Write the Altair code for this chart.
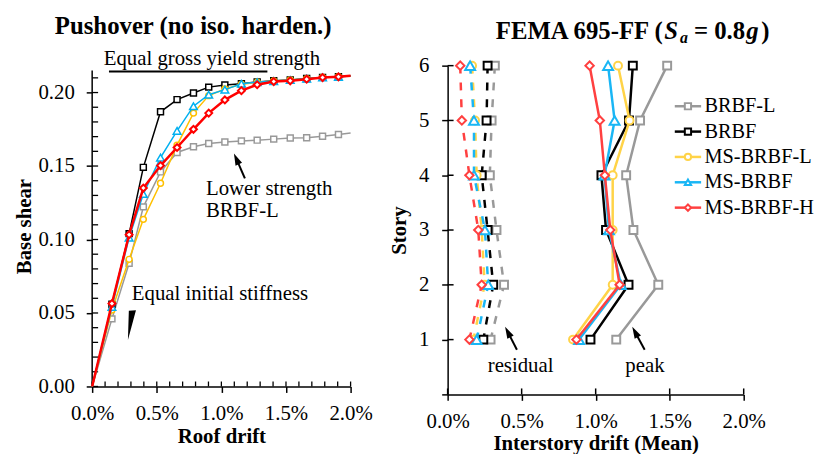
import altair as alt
import pandas as pd

FONT = "Liberation Serif"

SERIES = ["BRBF-L", "BRBF", "MS-BRBF-L", "MS-BRBF", "MS-BRBF-H"]
SHAPES = ["square", "square", "circle", "triangle-up", "diamond"]
COLORS_PUSH = ["#999999", "#000000", "#FFC000", "#00B0F0", "#FF0000"]
COLORS_DRIFT = ["#999999", "#000000", "#FFD347", "#19B6F5", "#FF4040"]

# ---------------- Pushover: roof drift (%) at markers, base shear ----------------
PUSH_DRIFT = [0.153, 0.286, 0.396, 0.529, 0.657, 0.784, 0.902, 1.027, 1.155,
              1.277, 1.405, 1.533, 1.660, 1.783, 1.906]
PUSH_END = 2.0
SHEAR_BRBF_L = [0.046, 0.0838, 0.1222, 0.146, 0.1592, 0.1631, 0.1653, 0.1664,
                0.1671, 0.1676, 0.1683, 0.1691, 0.1693, 0.1703, 0.1714]
SHEAR_BRBF = [0.056, 0.104, 0.1491, 0.1869, 0.1952, 0.1997, 0.2037, 0.2051,
              0.2060, 0.2072, 0.2080, 0.2086, 0.2095, 0.2103, 0.2108]
SHEAR_MS_BRBF_L = [0.052, 0.0865, 0.1137, 0.1383, 0.1642, 0.1860, 0.1979, 0.2024,
                   0.2057, 0.2070, 0.2078, 0.2085, 0.2094, 0.2102, 0.2107]
SHEAR_MS_BRBF = [0.0541, 0.1013, 0.131, 0.1557, 0.1739, 0.1907, 0.1985, 0.2020,
                 0.2060, 0.2070, 0.2078, 0.2085, 0.2094, 0.2102, 0.2107]
SHEAR_MS_BRBF_H = [0.0564, 0.1033, 0.135, 0.1503, 0.1626, 0.1750, 0.1860, 0.1950,
                   0.2013, 0.2053, 0.2075, 0.2080, 0.2091, 0.2102, 0.2107]
SHEAR_AT_END = [0.1725, 0.2114, 0.2113, 0.2113, 0.2114]

# ---------------- FEMA 695-FF: interstory drift (%) per story ----------------
STORIES = [1, 2, 3, 4, 5, 6]
PEAK_BRBF_L = [1.139, 1.423, 1.255, 1.206, 1.300, 1.483]
PEAK_BRBF = [0.965, 1.222, 1.070, 1.039, 1.225, 1.251]
PEAK_MS_BRBF_L = [0.847, 1.115, 1.115, 1.115, 1.229, 1.151]
PEAK_MS_BRBF = [0.888, 1.170, 1.090, 1.060, 1.128, 1.084]
PEAK_MS_BRBF_H = [0.870, 1.162, 1.099, 1.062, 1.028, 0.959]
RES_BRBF_L = [0.290, 0.381, 0.330, 0.285, 0.297, 0.319]
RES_BRBF = [0.241, 0.308, 0.270, 0.230, 0.263, 0.270]
RES_MS_BRBF_L = [0.174, 0.250, 0.230, 0.196, 0.185, 0.165]
RES_MS_BRBF = [0.196, 0.274, 0.252, 0.178, 0.178, 0.152]
RES_MS_BRBF_H = [0.147, 0.230, 0.207, 0.147, 0.096, 0.085]

X_TICKS = [0, 0.005, 0.01, 0.015, 0.02]
Y_TICKS_PUSH = [0, 0.05, 0.10, 0.15, 0.20]
X_MINOR_PUSH = [i / 1000 for i in range(21)]
Y_MINOR_PUSH = [i / 100 for i in range(22)]
STORY_TICKS = [0, 1, 2, 3, 4, 5, 6]

SHEARS = [SHEAR_BRBF_L, SHEAR_BRBF, SHEAR_MS_BRBF_L, SHEAR_MS_BRBF, SHEAR_MS_BRBF_H]
PEAKS = [PEAK_BRBF_L, PEAK_BRBF, PEAK_MS_BRBF_L, PEAK_MS_BRBF, PEAK_MS_BRBF_H]
RESIDS = [RES_BRBF_L, RES_BRBF, RES_MS_BRBF_L, RES_MS_BRBF, RES_MS_BRBF_H]

ONE = pd.DataFrame({"k": [0]})
ARROW = "M0,-1L-0.6,1L0.6,1Z"
AXIS_COMMON = dict(labelFlush=False, labelOverlap=False)

# ================= Left panel =================
WL, HL = 261, 324
xsL = alt.Scale(domain=[0, 0.02], nice=False, zero=False)
ysL = alt.Scale(domain=[0, 0.2183], nice=False, zero=False)
AX_XL = alt.Axis(values=X_TICKS, format=".1%", title="Roof drift",
                 tickSize=6, labelPadding=10, titlePadding=3, **AXIS_COMMON)
AX_YL = alt.Axis(values=Y_TICKS_PUSH, format=".2f", title="Base shear",
                 tickSize=6, labelPadding=12, titlePadding=4, domain=False, **AXIS_COMMON)
X_L = alt.X("drift:Q", scale=xsL, axis=AX_XL)
Y_L = alt.Y("shear:Q", scale=ysL, axis=AX_YL)


def xdL(v):
    return alt.XDatum(v, scale=xsL, axis=AX_XL)


def ydL(v):
    return alt.YDatum(v, scale=ysL, axis=AX_YL)


left_layers = []
# inward ticks + y axis line
left_layers.append(
    alt.Chart(pd.DataFrame({"v": X_MINOR_PUSH})).mark_rule(color="black", strokeWidth=1.3)
    .encode(x=alt.X("v:Q", scale=xsL, axis=AX_XL), y=alt.value(HL), y2=alt.value(HL - 5)))
left_layers.append(
    alt.Chart(pd.DataFrame({"v": Y_MINOR_PUSH})).mark_rule(color="black", strokeWidth=1.3)
    .encode(y=alt.Y("v:Q", scale=ysL, axis=AX_YL), x=alt.value(0), x2=alt.value(6)))
left_layers.append(
    alt.Chart(ONE).mark_rule(color="black", strokeWidth=1.5)
    .encode(x=alt.value(0), y=ydL(0), y2=alt.Y2Datum(0.215)))

size_push = [36, 36, 36, 60, 49]
width_push = [1.5, 1.5, 1.5, 1.5, 2.5]
for i, s in enumerate(SERIES):
    rows = [dict(drift=0.0, shear=0.0, marker=False)]
    rows += [dict(drift=d / 100, shear=v, marker=True) for d, v in zip(PUSH_DRIFT, SHEARS[i])]
    rows.append(dict(drift=PUSH_END / 100, shear=SHEAR_AT_END[i], marker=False))
    df = pd.DataFrame(rows)
    df["series"] = s
    left_layers.append(alt.Chart(df).mark_line(color=COLORS_PUSH[i], strokeWidth=width_push[i])
                       .encode(x=X_L, y=Y_L))
    left_layers.append(alt.Chart(df[df.marker]).mark_point(
        shape=SHAPES[i], size=size_push[i], filled=True, fill="white",
        stroke=COLORS_PUSH[i], strokeWidth=2 if i == 4 else 1.5, opacity=1)
        .encode(x=X_L, y=Y_L))

# annotations
left_layers.append(alt.Chart(ONE).mark_text(
    text="Pushover (no iso. harden.)", font=FONT, fontSize=25, fontWeight="bold",
    color="black", align="center", baseline="alphabetic")
    .encode(x=alt.value(102), y=alt.value(-31.8)))
left_layers.append(alt.Chart(ONE).mark_text(
    text="Equal gross yield strength", font=FONT, fontSize=21, color="black",
    align="center", baseline="alphabetic").encode(x=xdL(0.00927), y=ydL(0.2185)))
left_layers.append(alt.Chart(ONE).mark_rule(color="black", strokeWidth=2)
                   .encode(x=xdL(0.0013), x2=alt.X2Datum(0.01356), y=ydL(0.2143)))
left_layers.append(alt.Chart(ONE).mark_text(
    text="Lower strength", font=FONT, fontSize=21, color="black",
    align="left", baseline="alphabetic").encode(x=xdL(0.00881), y=ydL(0.1305)))
left_layers.append(alt.Chart(ONE).mark_text(
    text="BRBF-L", font=FONT, fontSize=21, color="black",
    align="left", baseline="alphabetic").encode(x=xdL(0.00881), y=ydL(0.115)))
left_layers.append(alt.Chart(ONE).mark_rule(color="black", strokeWidth=2)
                   .encode(x=xdL(0.01182), x2=alt.X2Datum(0.01116),
                           y=ydL(0.1416), y2=alt.Y2Datum(0.1549)))
left_layers.append(alt.Chart(ONE).mark_point(
    shape=ARROW, size=144, filled=True, color="black", opacity=1, angle=336)
    .encode(x=xdL(0.01116), y=ydL(0.1549)))
left_layers.append(alt.Chart(ONE).mark_text(
    text="Equal initial stiffness", font=FONT, fontSize=21, color="black",
    align="left", baseline="alphabetic").encode(x=xdL(0.00307), y=ydL(0.0586)))
left_layers.append(alt.Chart(ONE).mark_point(
    shape="M-0.22,-0.96L0.26,-1L-0.28,1Z", size=900, filled=True, color="black",
    opacity=1, strokeWidth=0).encode(x=xdL(0.00309), y=ydL(0.0418)))

left = alt.layer(*left_layers).properties(width=WL, height=HL)

# ================= Right panel =================
WR, HR = 299, 332
xsR = alt.Scale(domain=[0, 0.02], nice=False, zero=False)
ysR = alt.Scale(domain=[0, 6], nice=False, zero=False)
AX_XR = alt.Axis(values=X_TICKS, format=".1%", title="Interstory drift (Mean)",
                 tickSize=6, labelPadding=10, titlePadding=2, **AXIS_COMMON)
AX_YR = alt.Axis(values=STORY_TICKS, title="Story", tickSize=6, labelPadding=13,
                 titlePadding=9, labelExpr="datum.value == 0 ? '' : datum.label",
                 **AXIS_COMMON)
X_R = alt.X("drift:Q", scale=xsR, axis=AX_XR)
Y_R = alt.Y("story:Q", scale=ysR, axis=AX_YR)


def xdR(v):
    return alt.XDatum(v, scale=xsR, axis=AX_XR)


def ydR(v):
    return alt.YDatum(v, scale=ysR, axis=AX_YR)


right_layers = []
right_layers.append(
    alt.Chart(pd.DataFrame({"v": X_TICKS})).mark_rule(color="black", strokeWidth=1.5)
    .encode(x=alt.X("v:Q", scale=xsR, axis=AX_XR), y=alt.value(HR), y2=alt.value(HR - 6)))
right_layers.append(
    alt.Chart(pd.DataFrame({"v": STORY_TICKS[1:]})).mark_rule(color="black", strokeWidth=1.5)
    .encode(y=alt.Y("v:Q", scale=ysR, axis=AX_YR), x=alt.value(0), x2=alt.value(6)))

size_drift = [64, 64, 64, 100, 72]
for i, s in enumerate(SERIES):
    dpk = pd.DataFrame({"story": STORIES, "drift": [v / 100 for v in PEAKS[i]]})
    drs = pd.DataFrame({"story": STORIES, "drift": [v / 100 for v in RESIDS[i]]})
    for df, dash in ((drs, [8, 9]), (dpk, None)):
        kw = dict(color=COLORS_DRIFT[i], strokeWidth=2.5)
        if dash:
            kw["strokeDash"] = dash
        right_layers.append(alt.Chart(df).mark_line(**kw).encode(
            x=X_R, y=Y_R, order=alt.Order("story:Q", sort="descending")))
        right_layers.append(alt.Chart(df).mark_point(
            shape=SHAPES[i], size=size_drift[i], filled=True, fill="white",
            stroke=COLORS_DRIFT[i], strokeWidth=2, opacity=1).encode(x=X_R, y=Y_R))

# title pieces (S_a and g italic)
TITLE_PIECES = [
    ("FEMA 695-FF (", 498, 36, 25, "normal"),
    ("S", 668, 36, 25, "italic"),
    ("a", 684, 40, 16, "italic"),
    ("= 0.8", 698, 36, 25, "normal"),
    ("g", 751, 36, 25, "italic"),
    (")", 766, 36, 25, "normal"),
]
for t, px, py, fs, st in TITLE_PIECES:
    right_layers.append(alt.Chart(ONE).mark_text(
        text=t, font=FONT, fontSize=fs, fontWeight="bold", fontStyle=st, color="black",
        align="left", baseline="alphabetic")
        .encode(x=alt.value(px - 449.3), y=alt.value(py - 63.3)))

for t, xv in (("residual", 0.00493), ("peak", 0.01333)):
    right_layers.append(alt.Chart(ONE).mark_text(
        text=t, font=FONT, fontSize=21, color="black", align="center",
        baseline="alphabetic").encode(x=xdR(xv), y=ydR(0.403)))
for tail_x, head_x, ang in ((0.00468, 0.004064, 333), (0.01331, 0.01266, 332)):
    right_layers.append(alt.Chart(ONE).mark_rule(color="black", strokeWidth=2)
                        .encode(x=xdR(tail_x), x2=alt.X2Datum(head_x),
                                y=ydR(0.814), y2=alt.Y2Datum(1.14)))
    right_layers.append(alt.Chart(ONE).mark_point(
        shape=ARROW, size=144, filled=True, color="black", opacity=1, angle=ang)
        .encode(x=xdR(head_x), y=ydR(1.14)))

right_main = alt.layer(*right_layers)

# in-plot legend
leg_df = pd.DataFrame({"series": SERIES})
LY = alt.Y("series:N", scale=alt.Scale(type="point", domain=SERIES, range=[41, 143.4], padding=0),
           axis=None)
stroke_enc = alt.Stroke("series:N", scale=alt.Scale(domain=SERIES, range=COLORS_DRIFT), legend=None)
shape_enc = alt.Shape("series:N", scale=alt.Scale(domain=SERIES, range=SHAPES), legend=None)
leg = alt.layer(
    alt.Chart(leg_df).mark_rule(strokeWidth=2.5).encode(
        x=alt.value(229.4), x2=alt.value(256), y=LY, stroke=stroke_enc),
    alt.Chart(leg_df).mark_point(size=40, filled=True, fill="white", strokeWidth=2, opacity=1)
    .encode(x=alt.value(242.7), y=LY, stroke=stroke_enc, shape=shape_enc),
    alt.Chart(leg_df).mark_text(font=FONT, fontSize=20.5, color="black", align="left",
                                baseline="middle")
    .encode(x=alt.value(259.4), y=LY, text="series:N"),
)

right = alt.layer(right_main, leg).resolve_scale(y="independent").properties(width=WR, height=HR)

chart = (
    alt.hconcat(left, right, spacing=98, bounds="flush")
    .properties(padding={"left": 5, "top": 4, "right": 0, "bottom": 0})
    .configure_view(stroke=None)
    .configure_axis(labelFont=FONT, labelFontSize=21, labelColor="black",
                    titleFont=FONT, titleFontSize=21, titleFontWeight="bold",
                    titleColor="black", domainColor="black", tickColor="black",
                    domainWidth=1.5, tickWidth=1.5, grid=False)
)

chart.save("out.html", embed_options={"renderer": "svg", "actions": False})
